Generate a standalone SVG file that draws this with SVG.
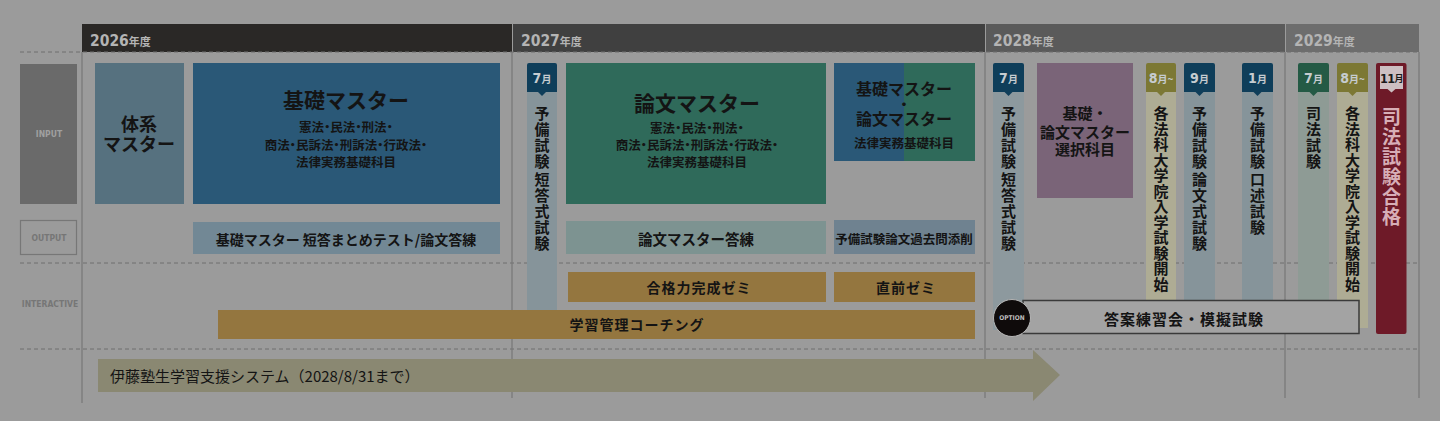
<svg xmlns="http://www.w3.org/2000/svg" width="1440" height="421" viewBox="0 0 1440 421">
<defs>
<style>
text{font-family:"Noto Sans CJK JP","Noto Sans",sans-serif;fill:#141414;font-weight:bold;text-anchor:middle;dominant-baseline:central}
.yr{font-family:"DejaVu Sans Condensed","Noto Sans",sans-serif;fill:#b4b4b4;text-anchor:start;dominant-baseline:auto;font-size:15.5px}
.yr tspan.s{font-family:"Noto Sans CJK JP",sans-serif;font-size:11px}
.lab{font-family:"DejaVu Sans Condensed","Noto Sans",sans-serif;font-size:8.5px}
.tag{font-family:"DejaVu Sans Condensed","Noto Sans",sans-serif;fill:#c6ccd0;font-size:14px}
.tag tspan.s{font-family:"Noto Sans CJK JP",sans-serif;font-size:10px}
.v{font-size:15px}
.sub{font-size:12.5px;font-feature-settings:"palt"}
.dash{stroke:#6e6e6e;stroke-width:1;stroke-dasharray:4 3;fill:none}
.vl{stroke:#777;stroke-width:1.2}
.blue{fill:#2a5877}
.green{fill:#2f6a5a}
.gold{fill:#94763f}
.ctag-b{fill:#0f3e5a}
.ctag-o{fill:#7c7834}
.ctag-g{fill:#245a45}
.col-b{fill:#86949a}
.col-o{fill:#aeac94}
.col-g{fill:#8e9b95}
</style>
</defs>
<rect width="1440" height="421" fill="#9b9b9b"/>

<g id="header">
<rect x="82" y="24" width="430" height="28" fill="#2a2826"/>
<rect x="513" y="24" width="472" height="28" fill="#404040"/>
<rect x="986" y="24" width="299" height="28" fill="#5a5a5a"/>
<rect x="1286" y="24" width="133" height="28" fill="#6d6d6d"/>
<text class="yr" x="90" y="46">2026<tspan class="s">年度</tspan></text>
<text class="yr" x="521" y="46">2027<tspan class="s">年度</tspan></text>
<text class="yr" x="993" y="46">2028<tspan class="s">年度</tspan></text>
<text class="yr" x="1294" y="46">2029<tspan class="s">年度</tspan></text>
</g>

<g id="grid">
<line class="dash" x1="20" y1="52" x2="1419" y2="52"/>
<line class="dash" x1="20" y1="263" x2="1419" y2="263"/>
<line class="dash" x1="20" y1="349" x2="1419" y2="349"/>
<line class="vl" x1="82" y1="52" x2="82" y2="403"/>
<line class="vl" x1="512" y1="52" x2="512" y2="398"/>
<line class="vl" x1="985" y1="52" x2="985" y2="398"/>
<line class="vl" x1="1285" y1="52" x2="1285" y2="398"/>
<line class="vl" x1="1419" y1="52" x2="1419" y2="398"/>
</g>

<g id="row-labels">
<rect x="20" y="64" width="57" height="140" fill="#6a6a6a"/>
<text class="lab" x="49" y="134" style="fill:#a0a0a0">INPUT</text>
<rect x="20.5" y="220.5" width="56" height="34" fill="none" stroke="#777" stroke-width="1.2"/>
<text class="lab" x="49" y="238" style="fill:#767676">OUTPUT</text>
<text class="lab" x="50" y="304" style="fill:#767676">INTERACTIVE</text>
</g>

<g id="n-taikei">
<rect x="95" y="63" width="89" height="141" fill="#56717f"/>
<text x="139" y="123" font-size="18">体系</text>
<text x="139" y="143" font-size="18">マスター</text>
</g>

<g id="n-kiso">
<rect class="blue" x="193" y="63" width="307" height="141"/>
<text x="346" y="99" font-size="21">基礎マスター</text>
<text class="sub" x="346" y="126">憲法・民法・刑法・</text>
<text class="sub" x="346" y="144">商法・民訴法・刑訴法・行政法・</text>
<text class="sub" x="346" y="161">法律実務基礎科目</text>
</g>

<g id="n-kiso-out">
<rect x="193" y="222" width="307" height="32" fill="#728895"/>
<text x="346" y="239" font-size="14">基礎マスター 短答まとめテスト/論文答練</text>
</g>

<g id="n-ronbun">
<rect class="green" x="566" y="63" width="260" height="141"/>
<text x="697" y="102" font-size="21">論文マスター</text>
<text class="sub" x="697" y="127">憲法・民法・刑法・</text>
<text class="sub" x="697" y="144">商法・民訴法・刑訴法・行政法・</text>
<text class="sub" x="697" y="161">法律実務基礎科目</text>
</g>

<g id="n-ronbun-out">
<rect x="566" y="221" width="260" height="33" fill="#7d9391"/>
<text x="696" y="238" font-size="14.5">論文マスター答練</text>
</g>

<g id="n-kiso-ronbun">
<rect class="blue" x="834" y="63" width="71" height="98"/>
<rect class="green" x="904" y="63" width="71" height="98"/>
<text x="904" y="88" font-size="16">基礎マスター</text>
<text x="904" y="103" font-size="14">・</text>
<text x="904" y="118" font-size="16">論文マスター</text>
<text class="sub" x="904" y="142" font-size="12">法律実務基礎科目</text>
</g>

<g id="n-kakomon">
<rect x="834" y="220" width="141" height="34" fill="#6f8290"/>
<text x="904" y="238" font-size="12.5">予備試験論文過去問添削</text>
</g>

<g id="n-goukaku-zemi">
<rect class="gold" x="568" y="272" width="258" height="30"/>
<text x="699" y="287" font-size="14" letter-spacing="1">合格力完成ゼミ</text>
</g>

<g id="n-chokuzen">
<rect class="gold" x="834" y="272" width="141" height="30"/>
<text x="906" y="287" font-size="14" letter-spacing="1">直前ゼミ</text>
</g>

<g id="n-2027-jul">
<rect class="col-b" x="527" y="80" width="30" height="230"/>
<path class="ctag-b" d="M527,65 a2,2 0 0 1 2,-2 h26 a2,2 0 0 1 2,2 v27 h-11 l-4,4 l-4,-4 h-11 z"/>
<text class="tag" x="542" y="78">7<tspan class="s">月</tspan></text>
<text class="v"><tspan x="542" y="112">予</tspan><tspan x="542" y="128">備</tspan><tspan x="542" y="144">試</tspan><tspan x="542" y="160">験</tspan><tspan x="542" y="178">短</tspan><tspan x="542" y="194">答</tspan><tspan x="542" y="210">式</tspan><tspan x="542" y="226">試</tspan><tspan x="542" y="242">験</tspan></text>
</g>

<g id="n-coaching">
<rect class="gold" x="218" y="310" width="757" height="29"/>
<text x="637" y="324" font-size="14" letter-spacing="1">学習管理コーチング</text>
</g>

<g id="n-2028-jul">
<rect x="993" y="80" width="31" height="250" fill="#8d999e"/>
<path class="ctag-b" d="M993,65 a2,2 0 0 1 2,-2 h27 a2,2 0 0 1 2,2 v27 h-11.5 l-4,4 l-4,-4 h-11.5 z"/>
<text class="tag" x="1008.5" y="78">7<tspan class="s">月</tspan></text>
<text class="v"><tspan x="1008.5" y="112">予</tspan><tspan x="1008.5" y="128">備</tspan><tspan x="1008.5" y="144">試</tspan><tspan x="1008.5" y="160">験</tspan><tspan x="1008.5" y="178">短</tspan><tspan x="1008.5" y="194">答</tspan><tspan x="1008.5" y="210">式</tspan><tspan x="1008.5" y="226">試</tspan><tspan x="1008.5" y="242">験</tspan></text>
</g>

<g id="n-sentaku">
<rect x="1037" y="63" width="96" height="135" fill="#7a6478"/>
<text x="1085" y="112" font-size="15">基礎・</text>
<text x="1085" y="131" font-size="15">論文マスター</text>
<text x="1085" y="148" font-size="15">選択科目</text>
</g>

<g id="n-2028-aug">
<rect class="col-o" x="1146" y="80" width="30" height="222"/>
<path class="ctag-o" d="M1146,65 a2,2 0 0 1 2,-2 h26 a2,2 0 0 1 2,2 v27 h-11 l-4,4 l-4,-4 h-11 z"/>
<text class="tag" x="1161" y="78">8<tspan class="s">月~</tspan></text>
<text class="v"><tspan x="1161" y="112">各</tspan><tspan x="1161" y="127.5">法</tspan><tspan x="1161" y="143">科</tspan><tspan x="1161" y="158.5">大</tspan><tspan x="1161" y="174">学</tspan><tspan x="1161" y="189.5">院</tspan><tspan x="1161" y="205">入</tspan><tspan x="1161" y="220.5">学</tspan><tspan x="1161" y="236">試</tspan><tspan x="1161" y="251.5">験</tspan><tspan x="1161" y="267">開</tspan><tspan x="1161" y="282.5">始</tspan></text>
</g>

<g id="n-2028-sep">
<rect class="col-b" x="1184" y="80" width="31" height="222"/>
<path class="ctag-b" d="M1184,65 a2,2 0 0 1 2,-2 h27 a2,2 0 0 1 2,2 v27 h-11.5 l-4,4 l-4,-4 h-11.5 z"/>
<text class="tag" x="1199.5" y="78">9<tspan class="s">月</tspan></text>
<text class="v"><tspan x="1199.5" y="112">予</tspan><tspan x="1199.5" y="128">備</tspan><tspan x="1199.5" y="144">試</tspan><tspan x="1199.5" y="160">験</tspan><tspan x="1199.5" y="178">論</tspan><tspan x="1199.5" y="194">文</tspan><tspan x="1199.5" y="210">式</tspan><tspan x="1199.5" y="226">試</tspan><tspan x="1199.5" y="242">験</tspan></text>
</g>

<g id="n-2029-jan">
<rect class="col-b" x="1242" y="80" width="31" height="222"/>
<path class="ctag-b" d="M1242,65 a2,2 0 0 1 2,-2 h27 a2,2 0 0 1 2,2 v27 h-11.5 l-4,4 l-4,-4 h-11.5 z"/>
<text class="tag" x="1257.5" y="78">1<tspan class="s">月</tspan></text>
<text class="v"><tspan x="1257.5" y="112">予</tspan><tspan x="1257.5" y="128">備</tspan><tspan x="1257.5" y="144">試</tspan><tspan x="1257.5" y="160">験</tspan><tspan x="1257.5" y="178">口</tspan><tspan x="1257.5" y="194">述</tspan><tspan x="1257.5" y="210">試</tspan><tspan x="1257.5" y="226">験</tspan></text>
</g>

<g id="n-2029-jul">
<rect class="col-g" x="1298" y="80" width="31" height="222"/>
<path class="ctag-g" d="M1298,65 a2,2 0 0 1 2,-2 h27 a2,2 0 0 1 2,2 v27 h-11.5 l-4,4 l-4,-4 h-11.5 z"/>
<text class="tag" x="1313.5" y="78">7<tspan class="s">月</tspan></text>
<text class="v"><tspan x="1313.5" y="112">司</tspan><tspan x="1313.5" y="128">法</tspan><tspan x="1313.5" y="144">試</tspan><tspan x="1313.5" y="160">験</tspan></text>
</g>

<g id="n-2029-aug">
<rect class="col-o" x="1337" y="80" width="31" height="248"/>
<path class="ctag-o" d="M1337,65 a2,2 0 0 1 2,-2 h27 a2,2 0 0 1 2,2 v27 h-11.5 l-4,4 l-4,-4 h-11.5 z"/>
<text class="tag" x="1352.5" y="78">8<tspan class="s">月~</tspan></text>
<text class="v"><tspan x="1352.5" y="112">各</tspan><tspan x="1352.5" y="127.5">法</tspan><tspan x="1352.5" y="143">科</tspan><tspan x="1352.5" y="158.5">大</tspan><tspan x="1352.5" y="174">学</tspan><tspan x="1352.5" y="189.5">院</tspan><tspan x="1352.5" y="205">入</tspan><tspan x="1352.5" y="220.5">学</tspan><tspan x="1352.5" y="236">試</tspan><tspan x="1352.5" y="251.5">験</tspan><tspan x="1352.5" y="267">開</tspan><tspan x="1352.5" y="282.5">始</tspan></text>
</g>

<g id="n-pass">
<rect x="1376" y="63" width="30.5" height="271" rx="2" fill="#6e1a28"/>
<path d="M1380,66 h23 v23 h-7.5 l-4,3.5 l-4,-3.5 h-7.5 z" fill="#cdbfc2"/>
<text class="tag" x="1391.5" y="78" style="fill:#1a1a1a;font-size:12.5px;letter-spacing:-0.5px">11<tspan class="s" style="font-size:9px">月</tspan></text>
<text font-size="19" style="fill:#d7aeb6"><tspan x="1391.5" y="115">司</tspan><tspan x="1391.5" y="135">法</tspan><tspan x="1391.5" y="155">試</tspan><tspan x="1391.5" y="175">験</tspan><tspan x="1391.5" y="195">合</tspan><tspan x="1391.5" y="215">格</tspan></text>
</g>

<g id="n-option">
<rect x="1023" y="300.5" width="336" height="33" fill="#a3a3a3" stroke="#3a3a3a" stroke-width="1.5"/>
<circle cx="1012" cy="318" r="18.5" fill="#0f0b0b" stroke="#b5b5b5" stroke-width="1"/>
<text x="1012" y="318" font-size="6.5" style="fill:#bdbdbd;font-family:'DejaVu Sans Condensed',sans-serif">OPTION</text>
<text x="1184" y="318" font-size="15" letter-spacing="1">答案練習会・模擬試験</text>
</g>

<g id="connectors">
<path d="M98,359 H1033 V350 L1060,375 L1033,401 V392 H98 Z" fill="#8a8872"/>
</g>
<g id="n-system">
<text x="110" y="375" font-size="15" style="text-anchor:start;font-weight:normal">伊藤塾生学習支援システム（2028/8/31まで）</text>
</g>
</svg>
